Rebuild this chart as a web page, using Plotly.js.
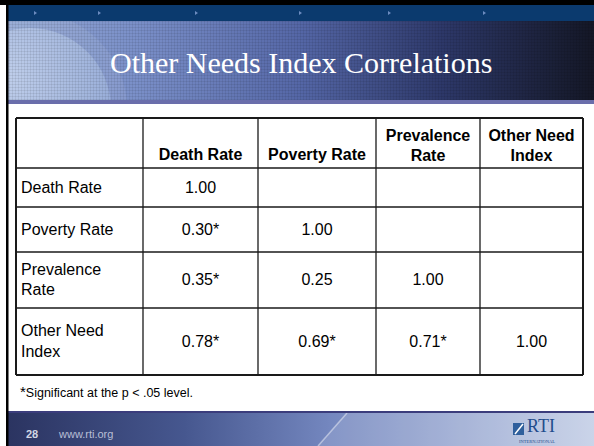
<!DOCTYPE html>
<html>
<head>
<meta charset="utf-8">
<script src="https://cdn.plot.ly/plotly-3.0.1.min.js"></script>
<style>html,body{margin:0;padding:0;background:#fff;}#chart{width:594px;height:446px;}</style>
</head>
<body>
<div id="chart"></div>
<script>
// ---- data ----
const colLabels = ["Death Rate", "Poverty Rate", "Prevalence<br>Rate", "Other Need<br>Index"];
const rowLabels = ["Death Rate", "Poverty Rate", "Prevalence<br>Rate", "Other Need<br>Index"];
const deathRateCol   = [1.00, 0.30, 0.35, 0.78];
const povertyRateCol = [null, 1.00, 0.25, 0.69];
const prevalenceCol  = [null, null, 1.00, 0.71];
const otherNeedCol   = [null, null, null, 1.00];
const deathRateSig   = [false, true, true, true];
const povertyRateSig = [false, false, false, true];
const prevalenceSig  = [false, false, false, true];
const otherNeedSig   = [false, false, false, false];
const titleText = "Other Needs Index Correlations";
const footnoteText = "Significant at the p &lt; .05 level.";
const slideNumber = "28";
const siteText = "www.rti.org";

// ---- layout geometry (pixel space) ----
const colEdges = [16, 143, 258, 376, 480, 583];
const rowEdges = [118, 168, 207, 252, 308, 375];
const W = 594, H = 446;

const cols = [deathRateCol, povertyRateCol, prevalenceCol, otherNeedCol];
const sigs = [deathRateSig, povertyRateSig, prevalenceSig, otherNeedSig];
const mid = (a, i) => (a[i] + a[i + 1]) / 2;
const nLines = s => s.split("<br>").length;

// header texts
const hx = [], hy = [], ht = [];
colLabels.forEach((c, j) => {
  hx.push(mid(colEdges, j + 1));
  hy.push(rowEdges[1] - 12 - (nLines(c) - 1) * 9);
  ht.push("<b>" + c + "</b>");
});
// row labels
const rx = [], ry = [], rt = [];
rowLabels.forEach((r, i) => {
  rx.push(colEdges[0] + 5);
  ry.push(mid(rowEdges, i + 1) + 1);
  rt.push(r);
});
// values
const vx = [], vy = [], vt = [];
cols.forEach((col, j) => {
  col.forEach((v, i) => {
    if (v === null) return;
    vx.push(mid(colEdges, j + 1));
    vy.push(mid(rowEdges, i + 1) + 1);
    vt.push(v.toFixed(2) + (sigs[j][i] ? "*" : ""));
  });
});

const tf = {family: "Liberation Sans, Arial, sans-serif", size: 16, color: "#000"};
const traces = [
  {type: "scatter", mode: "text", x: hx, y: hy, text: ht, textposition: "middle center", textfont: tf, hoverinfo: "skip", showlegend: false},
  {type: "scatter", mode: "text", x: rx, y: ry, text: rt, textposition: "middle right", textfont: tf, hoverinfo: "skip", showlegend: false},
  {type: "scatter", mode: "text", x: vx, y: vy, text: vt, textposition: "middle center", textfont: tf, hoverinfo: "skip", showlegend: false}
];

// grid shapes
const shapes = [];
const lc = "#1a1a1a";
colEdges.forEach((x, k) => {
  const outer = (k === 0 || k === colEdges.length - 1);
  shapes.push({type: "line", xref: "x", yref: "y", x0: x, x1: x, y0: rowEdges[0], y1: rowEdges[rowEdges.length - 1], line: {color: lc, width: outer ? 2 : 1.3}});
});
rowEdges.forEach((y, k) => {
  const outer = (k === 0 || k === rowEdges.length - 1);
  shapes.push({type: "line", xref: "x", yref: "y", x0: colEdges[0], x1: colEdges[colEdges.length - 1], y0: y, y1: y, line: {color: lc, width: outer ? 2 : 1.3}});
});

// decorative slide background
const arrows = [34, 98, 195, 299, 388, 483].map(x => `<polygon points="${x},11 ${x + 3},13 ${x},15" fill="#6d8cc0"/>`).join("");
const svg = `<svg xmlns="http://www.w3.org/2000/svg" width="594" height="446" viewBox="0 0 594 446">
<defs>
<linearGradient id="tb" x1="0" y1="0" x2="1" y2="0">
<stop offset="0" stop-color="#93a8d4"/><stop offset="0.22" stop-color="#7a8fc8"/><stop offset="0.5" stop-color="#5466a6"/><stop offset="0.74" stop-color="#2d3869"/><stop offset="1" stop-color="#141726"/>
</linearGradient>
<radialGradient id="gl" cx="0.35" cy="0.3" r="0.8">
<stop offset="0" stop-color="#c6d4ee"/><stop offset="0.7" stop-color="#a3b7de"/><stop offset="1" stop-color="#90a6d4"/>
</radialGradient>
<pattern id="grid" width="3" height="3" patternUnits="userSpaceOnUse">
<rect width="3" height="1" fill="#000" fill-opacity="0.07"/><rect width="1" height="3" fill="#000" fill-opacity="0.07"/>
</pattern>
<linearGradient id="ft" x1="0" y1="0" x2="1" y2="0">
<stop offset="0" stop-color="#2b3461"/><stop offset="0.3" stop-color="#46578f"/><stop offset="0.55" stop-color="#7487bf"/><stop offset="1" stop-color="#c3cee6"/>
</linearGradient>
<clipPath id="cb"><rect x="8" y="21" width="586" height="79"/></clipPath>
</defs>
<rect width="594" height="446" fill="#fff"/>
<rect x="8" y="5" width="586" height="16" fill="#0b3a6e"/>
${arrows}
<rect x="8" y="21" width="586" height="79" fill="url(#tb)"/>
<g clip-path="url(#cb)">
<circle cx="30" cy="109" r="97" fill="#fff" fill-opacity="0.08"/>
<circle cx="30" cy="109" r="81" fill="url(#gl)" fill-opacity="0.85"/>
</g>
<rect x="8" y="21" width="586" height="79" fill="url(#grid)"/>
<rect x="8" y="100" width="586" height="4" fill="#6a6eab"/>
<rect x="8" y="411" width="586" height="35" fill="url(#ft)"/>
<polygon points="318,446 347,413 594,413 594,446" fill="#fff" fill-opacity="0.13"/>
<line x1="318" y1="446" x2="347" y2="413" stroke="#fff" stroke-opacity="0.45" stroke-width="1.5"/>
<rect x="8" y="411" width="586" height="2" fill="#3b3d7c"/>
<rect x="513" y="423" width="11" height="12" fill="#2f5f9c"/>
<line x1="515" y1="434" x2="523" y2="424" stroke="#fff" stroke-width="1.5"/>
<rect x="0" y="0" width="594" height="5" fill="#000"/>
<rect x="6" y="0" width="2.5" height="446" fill="#000"/>
</svg>`;
const bg = "data:image/svg+xml;charset=utf-8," + encodeURIComponent(svg);

const annotations = [
  {xref: "x", yref: "y", x: 301, y: 62, text: titleText, showarrow: false, xanchor: "center", yanchor: "middle",
   font: {family: "Liberation Serif, Times New Roman, serif", size: 30, color: "#ffffff"}},
  {xref: "x", yref: "y", x: 18, y: 391, text: "<span style='font-size:15px'>*</span>" + footnoteText, showarrow: false, xanchor: "left", yanchor: "middle",
   font: {family: "Liberation Sans, Arial, sans-serif", size: 12.5, color: "#000"}},
  {xref: "x", yref: "y", x: 32, y: 434, text: "<b>" + slideNumber + "</b>", showarrow: false, xanchor: "center", yanchor: "middle",
   font: {family: "Liberation Sans, Arial, sans-serif", size: 11, color: "#d2d6e4"}},
  {xref: "x", yref: "y", x: 56, y: 434, text: siteText, showarrow: false, xanchor: "left", yanchor: "middle",
   font: {family: "Liberation Sans, Arial, sans-serif", size: 11, color: "#b9bfd6"}},
  {xref: "x", yref: "y", x: 541, y: 426, text: "RTI", showarrow: false, xanchor: "center", yanchor: "middle", borderpad: 0,
   font: {family: "Liberation Serif, Times New Roman, serif", size: 18, color: "#1f4c8c"}},
  {xref: "x", yref: "y", x: 537, y: 441.5, text: "INTERNATIONAL", showarrow: false, xanchor: "center", yanchor: "middle", borderpad: 0,
   font: {family: "Liberation Serif, Times New Roman, serif", size: 4.5, color: "#1f4c8c"}}
];

const layout = {
  width: W, height: H,
  margin: {l: 0, r: 0, t: 0, b: 0, pad: 0},
  paper_bgcolor: "#ffffff",
  plot_bgcolor: "rgba(0,0,0,0)",
  xaxis: {range: [0, W], visible: false, fixedrange: true, domain: [0, 1]},
  yaxis: {range: [H, 0], visible: false, fixedrange: true, domain: [0, 1]},
  showlegend: false,
  shapes: shapes,
  annotations: annotations,
  images: [{source: bg, xref: "paper", yref: "paper", x: 0, y: 1, sizex: 1, sizey: 1, sizing: "stretch", xanchor: "left", yanchor: "top", layer: "below"}]
};

Plotly.newPlot("chart", traces, layout, {staticPlot: true, displayModeBar: false});
</script>
</body>
</html>
